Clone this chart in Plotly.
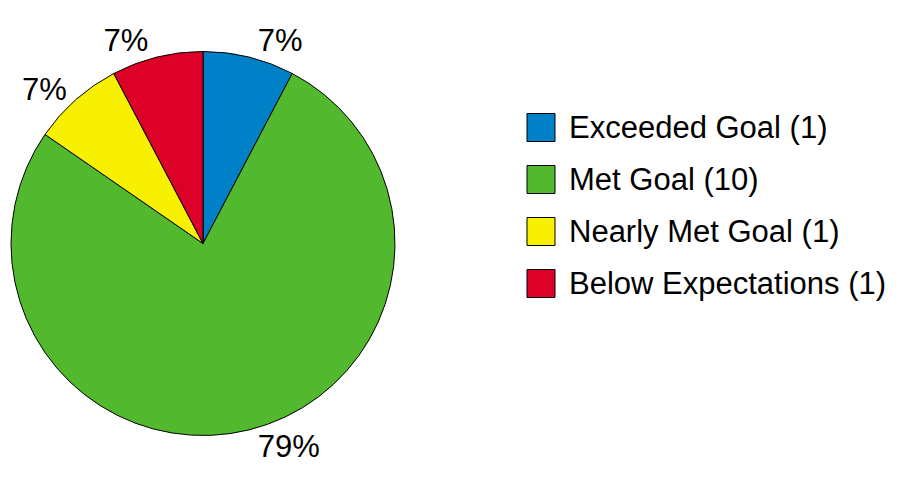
import plotly.graph_objects as go

categories = ["Exceeded Goal", "Met Goal", "Nearly Met Goal", "Below Expectations"]
counts = [1, 10, 1, 1]
percent_labels = ["7%", "79%", "7%", "7%"]
colors = ["#0080C6", "#52B82E", "#F7F000", "#DD0027"]

W, H = 899, 487
FONT = "Liberation Sans, Arial, sans-serif"

fig = go.Figure()
fig.add_trace(go.Pie(
    labels=categories,
    values=counts,
    text=percent_labels,
    textinfo="text",
    sort=False,
    direction="clockwise",
    rotation=0,
    marker=dict(colors=colors, line=dict(color="#000000", width=1)),
    textposition="outside",
    textfont=dict(size=31, color="#000000", family=FONT),
    showlegend=False,
    hoverinfo="label+value",
    domain=dict(x=[11 / W, 395 / W], y=[1 - 435.5 / H, 1 - 51.5 / H]),
))

# custom legend (large swatches)
shapes = []
annotations = []
sw = 28
x0 = 527
y_first = 127.5
step = 52
for i, (name, cnt, col) in enumerate(zip(categories, counts, colors)):
    yc = y_first + i * step
    shapes.append(dict(
        type="rect", xref="paper", yref="paper",
        x0=x0 / W, x1=(x0 + sw) / W,
        y0=1 - (yc + sw / 2) / H, y1=1 - (yc - sw / 2) / H,
        fillcolor=col, line=dict(color="#000000", width=1),
    ))
    annotations.append(dict(
        xref="paper", yref="paper", x=567 / W, y=1 - yc / H,
        xanchor="left", yanchor="middle", showarrow=False,
        text=f"{name} ({cnt})",
        font=dict(size=31, color="#000000", family=FONT),
    ))

fig.update_layout(
    width=W, height=H,
    margin=dict(l=0, r=0, t=0, b=0),
    paper_bgcolor="#FFFFFF",
    plot_bgcolor="#FFFFFF",
    shapes=shapes,
    annotations=annotations,
    showlegend=False,
)

fig.write_html("out.html")
